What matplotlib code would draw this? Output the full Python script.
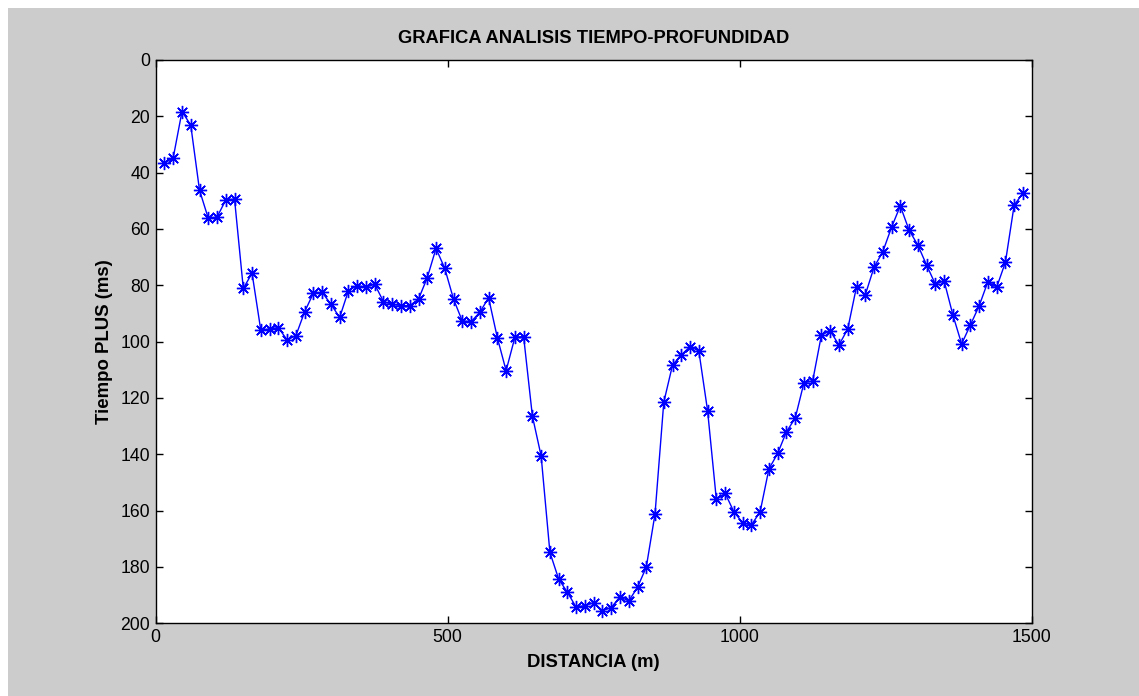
import matplotlib
matplotlib.use("Agg")
import matplotlib.pyplot as plt
from matplotlib.patches import Rectangle

plt.rcParams['font.family'] = ['Liberation Sans', 'DejaVu Sans']

# Station distances along the profile (m)
distancia = [
    15, 30, 45, 60, 75, 90, 105, 120, 135, 150,
    165, 180, 195, 210, 225, 240, 255, 270, 285, 300,
    315, 330, 345, 360, 375, 390, 405, 420, 435, 450,
    465, 480, 495, 510, 525, 540, 555, 570, 585, 600,
    615, 630, 645, 660, 675, 690, 705, 720, 735, 750,
    765, 780, 795, 810, 825, 840, 855, 870, 885, 900,
    915, 930, 945, 960, 975, 990, 1005, 1020, 1035, 1050,
    1065, 1080, 1095, 1110, 1125, 1140, 1155, 1170, 1185, 1200,
    1215, 1230, 1245, 1260, 1275, 1290, 1305, 1320, 1335, 1350,
    1365, 1380, 1395, 1410, 1425, 1440, 1455, 1470, 1485,
]

# Plus-time at each station (ms)
tiempo_plus = [
    36.7, 34.7, 18.3, 23.1, 46.2, 56.2, 55.8, 49.7, 49.4, 81.1,
    75.7, 96.0, 95.5, 95.0, 99.4, 97.9, 89.4, 82.8, 82.5, 86.7,
    91.4, 81.9, 80.1, 80.7, 79.6, 85.8, 86.7, 87.2, 87.2, 84.9,
    77.3, 66.9, 74.0, 84.9, 92.7, 92.9, 89.6, 84.4, 98.6, 110.3,
    98.5, 98.2, 126.4, 140.6, 174.8, 184.3, 189.0, 194.3, 193.7, 192.7,
    195.5, 194.4, 190.6, 192.1, 187.2, 180.1, 161.2, 121.5, 108.3, 104.7,
    101.8, 103.3, 124.5, 156.0, 153.8, 160.4, 164.3, 165.1, 160.4, 145.2,
    139.7, 132.0, 127.2, 114.6, 113.9, 97.6, 96.2, 101.2, 95.5, 80.5,
    83.4, 73.6, 68.1, 59.4, 51.8, 60.4, 65.7, 72.8, 79.6, 78.4,
    90.5, 100.8, 94.1, 87.3, 78.7, 80.7, 71.8, 51.5, 47.3,
]

x_ticks = [0, 500, 1000, 1500]
y_ticks = [0, 20, 40, 60, 80, 100, 120, 140, 160, 180, 200]

W, H = 1139, 696
fig = plt.figure(figsize=(W / 100, H / 100), dpi=100, facecolor='white')
# grey figure panel with a thin white margin at top and left
panel = Rectangle((8 / W, 0), 1 - 8 / W, 1 - 8 / H,
                  transform=fig.transFigure, facecolor='#cccccc',
                  edgecolor='none', zorder=-10)
fig.add_artist(panel)

left, right = 155.7 / W, 1031.7 / W
bottom, top = (H - 623.3) / H, (H - 60) / H
ax = fig.add_axes([left, bottom, right - left, top - bottom])
ax.set_zorder(5)
ax.set_facecolor('white')

ax.plot(distancia, tiempo_plus, color='#0000ff', linewidth=1.0,
        marker=(8, 2, 0), markersize=9.5, markeredgewidth=1.0,
        markeredgecolor='#0000ff')

ax.set_xlim(0, 1500)
ax.set_ylim(200, 0)
ax.set_xticks(x_ticks)
ax.set_yticks(y_ticks)
ax.tick_params(direction='in', length=5, width=1, top=True, right=True,
               labelsize=12.7, colors='black', pad=4)
for s in ax.spines.values():
    s.set_linewidth(1.0)
    s.set_color('black')

ax.set_title('GRAFICA ANALISIS TIEMPO-PROFUNDIDAD', fontsize=13.2,
             fontweight='bold', pad=12)
ax.set_xlabel('DISTANCIA (m)', fontsize=13.3, fontweight='bold', labelpad=6)
ax.set_ylabel('Tiempo PLUS (ms)', fontsize=13.4, fontweight='bold', labelpad=5)

fig.savefig('out.png', dpi=100, facecolor=fig.get_facecolor())
